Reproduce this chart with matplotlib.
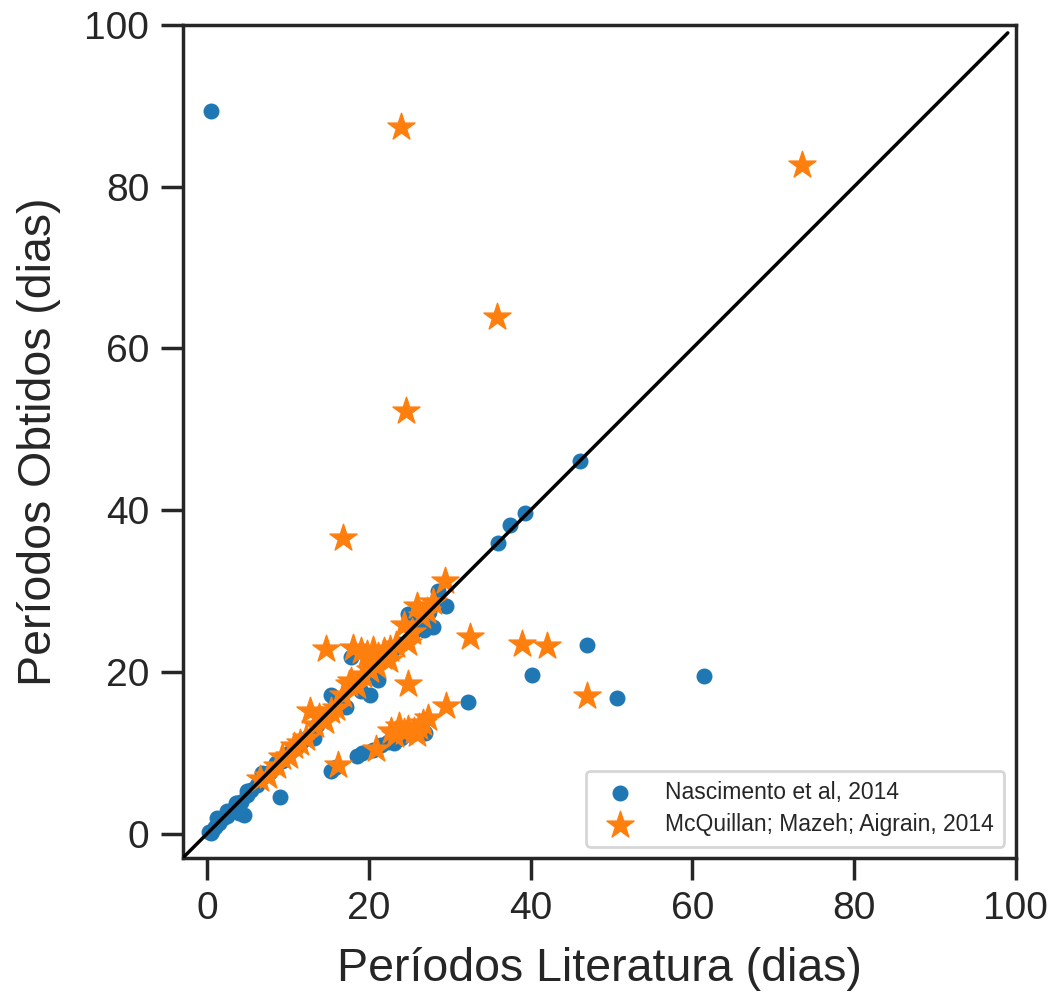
import numpy as np
import matplotlib
matplotlib.use("Agg")
import matplotlib.pyplot as plt
import seaborn as sns

# ----------------------------------------------------------------------
# Periods (days): literature vs. obtained
# ----------------------------------------------------------------------
nasc_lit = [0.3, 0.6, 0.5, 1.0, 1.2, 1.5, 2.0, 2.5, 2.5, 3.0, 3.6, 3.7, 4.0, 4.6, 4.2,
            4.9, 5.0, 5.5, 6.2, 6.8, 7.0, 7.8, 8.5, 9.0, 9.3, 10.2, 11.0, 11.8, 12.5,
            13.2, 13.6, 14.5, 15.3, 15.7, 16.3, 17.2, 17.8, 18.5, 19.0, 19.5, 20.2,
            21.1, 21.5, 22.3, 23.0, 23.8, 24.9, 25.5, 26.2, 26.8, 28.0, 28.6, 29.5,
            27.5, 0.5, 46.1, 39.3, 37.5, 36.0, 47.0, 40.2, 50.7, 61.4, 32.3, 15.3,
            16.0, 18.6, 19.2, 20.5, 21.5, 22.4, 23.1, 24.0, 25.0, 25.8, 26.5, 27.0]
nasc_obt = [0.2, 0.4, 0.1, 0.8, 2.0, 1.3, 2.0, 2.2, 2.8, 2.8, 3.8, 3.8, 2.6, 2.3, 3.9,
            5.3, 4.8, 5.4, 6.0, 7.5, 7.1, 7.6, 8.8, 4.5, 9.0, 10.0, 10.6, 11.5, 12.0,
            11.8, 13.4, 14.2, 17.1, 16.8, 16.0, 15.7, 21.9, 18.3, 17.6, 19.4, 17.1,
            19.0, 21.2, 22.0, 22.8, 23.5, 27.2, 25.0, 26.0, 25.2, 25.6, 30.0, 28.2,
            27.4, 89.3, 46.1, 39.7, 38.2, 35.9, 23.3, 19.6, 16.8, 19.5, 16.3, 7.8,
            8.3, 9.6, 10.0, 10.4, 11.0, 11.3, 11.2, 11.8, 12.3, 12.8, 13.3, 12.5]

mcq_lit = [24.0, 73.5, 35.8, 24.6, 16.8, 29.4, 32.5, 39.0, 42.0, 47.0, 14.7, 24.8,
           29.5, 16.2, 20.9, 18.1, 19.0, 19.8, 20.5, 21.2, 21.9, 22.5, 20.0, 22.7,
           23.3, 23.7, 24.3, 24.8, 25.6, 26.2, 26.7, 27.3, 26.0, 6.5, 7.5, 8.6, 9.3,
           10.1, 10.8, 11.5, 12.2, 12.8, 13.3, 13.8, 14.6, 15.3, 16.0, 16.8, 17.6,
           17.8, 18.6, 19.3, 20.2, 21.0, 21.8, 22.6, 23.4, 24.3, 24.9, 25.3, 26.0,
           26.6, 27.2, 28.0]
mcq_obt = [87.4, 82.7, 63.9, 52.3, 36.6, 31.2, 24.3, 23.5, 23.2, 17.0, 22.9, 18.5,
           15.8, 8.5, 10.5, 23.0, 22.6, 22.2, 22.7, 22.0, 22.6, 21.5, 21.5, 12.7,
           12.2, 13.3, 12.6, 13.0, 12.7, 13.2, 13.7, 14.3, 12.3, 6.8, 7.2, 8.4, 9.5,
           9.6, 10.9, 11.2, 11.8, 15.2, 13.5, 14.4, 14.0, 15.2, 15.5, 17.2, 18.5,
           18.9, 18.3, 19.6, 20.3, 20.8, 21.8, 22.9, 23.4, 25.8, 23.6, 25.0, 28.1,
           26.9, 27.5, 28.6]

# ----------------------------------------------------------------------
# Plot
# ----------------------------------------------------------------------
sns.set_style("ticks")
plt.rcParams["font.family"] = ["Liberation Sans", "DejaVu Sans"]
dark = "#262626"

fig = plt.figure(figsize=(10.56, 9.92), dpi=100)
ax = fig.add_axes([0.173, 0.135, 0.789, 0.84])

ax.scatter(nasc_lit, nasc_obt, s=110, color="C0", marker="o",
           label="Nascimento et al, 2014", zorder=2)
ax.scatter(mcq_lit, mcq_obt, s=420, color="C1", marker="*",
           label="McQuillan; Mazeh; Aigrain, 2014", zorder=3)

diag = np.arange(-3, 100)
ax.plot(diag, diag, color="black", lw=2.5, zorder=4)

ax.set_xlim(-3, 100)
ax.set_ylim(-3, 100)
ax.set_xticks([0, 20, 40, 60, 80, 100])
ax.set_yticks([0, 20, 40, 60, 80, 100])

ax.set_xlabel("Períodos Literatura (dias)", fontsize=33.5, color=dark, labelpad=14)
ax.set_ylabel("Períodos Obtidos (dias)", fontsize=33.5, color=dark, labelpad=17)
ax.tick_params(axis="both", labelsize=28, length=16, width=2.5,
               colors=dark, direction="out", pad=8)
for sp in ax.spines.values():
    sp.set_linewidth(2.5)
    sp.set_color(dark)

leg = ax.legend(loc="lower right", fontsize=16.5, frameon=True,
                borderpad=0.45, handletextpad=1.0, labelspacing=0.4,
                borderaxespad=0.5)
leg.get_frame().set_edgecolor("#cccccc")
leg.get_frame().set_linewidth(2)
for t in leg.get_texts():
    t.set_color(dark)

fig.savefig("out.png", dpi=100)
